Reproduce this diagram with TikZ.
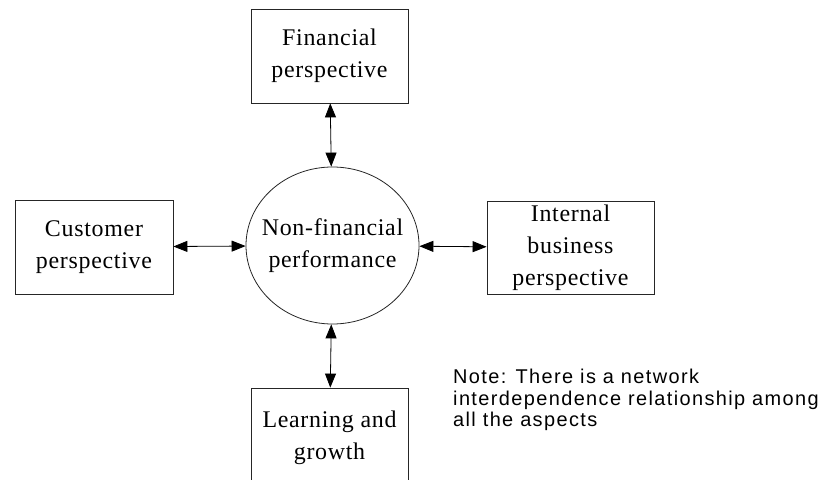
\documentclass[tikz,border=0pt]{standalone}
\usepackage{fontspec}
\setmainfont{Liberation Serif}[LetterSpace=3]
\newfontfamily\notefont{Liberation Sans}[LetterSpace=7]
\usetikzlibrary{arrows.meta,shapes.geometric}
\definecolor{FrameInk}{HTML}{262626}
\tikzset{>={Triangle[length=14bp,width=11bp]},
 persp/.style={draw=FrameInk,line width=0.8bp,align=center,inner sep=0pt,
 font=\fontsize{24}{32}\selectfont},
 core/.style={ellipse,draw=FrameInk,line width=0.8bp,minimum width=173bp,
 minimum height=157bp,inner sep=0pt},
 link/.style={<->,line width=0.8bp,black}}

\begin{document}
\begin{tikzpicture}[x=1bp,y=-1bp]
\useasboundingbox (0,0) rectangle (828,480);
% the hub and its text
\node[core] (perf) at (332.5,245.5){};
\node[align=center,font=\fontsize{24}{32}\selectfont] (perftext) at (perf){Non-financial\\performance};
% the four perspectives round it
\node[persp,minimum width=157bp,minimum height=94bp] (fin) at (329.5,56){Financial\\perspective};
\node[persp,minimum width=158bp,minimum height=94bp] (cust) at (94,247){Customer\\perspective};
\node[persp,minimum width=167bp,minimum height=93bp] (intl) at (570.5,247.5){Internal\\business\\perspective};
\node[persp,minimum width=157bp,minimum height=100bp] (learn) at (329.5,438){Learning and\\growth};
\draw[link] (fin) -- (perf);
\draw[link] (cust) -- (perf);
\draw[link] (perf) -- (intl);
\draw[link] (perf) -- (learn);
\node[anchor=north west,align=left,inner sep=0pt,font=\notefont\fontsize{20}{21.5}\selectfont] (note) at (453,369)
 {Note: There is a network\\interdependence relationship among\\all the aspects};
\end{tikzpicture}
\end{document}
